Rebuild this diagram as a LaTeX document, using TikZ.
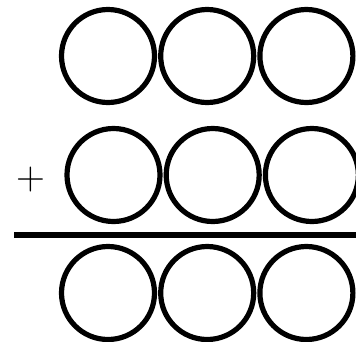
\documentclass[tikz,border=0pt]{standalone}
\usetikzlibrary{positioning}

\begin{document}
\begin{tikzpicture}[
  x=1pt, y=1pt,
  node distance=1pt,
  digit/.style={circle, draw=black, line width=5.2pt, minimum size=93pt,
                inner sep=0pt},
  sign/.style={font=\fontsize{40}{40}\selectfont, inner sep=0pt},
  bar/.style={line width=5.5pt, draw=black}
]
\useasboundingbox (0,0) rectangle (356,-341);

% ==================== FIRST NUMBER ====================
\node[digit] (a1) at (108,-56) {};
\node[digit, right=of a1] (a2) {};
\node[digit, right=of a2] (a3) {};

% ==================== SECOND NUMBER ====================
\node[digit] (b1) at (113.5,-175) {};
\node[digit, right=of b1] (b2) {};
\node[digit, right=of b2] (b3) {};

\node[sign] (plus) at (31,-180) {+};

% ==================== RESULT ====================
\coordinate (barL) at (14,-235);
\coordinate (barR) at (356,-235);
\draw[bar] (barL) -- (barR);

\node[digit] (c1) at (108,-293) {};
\node[digit, right=of c1] (c2) {};
\node[digit, right=of c2] (c3) {};

\end{tikzpicture}
\end{document}
